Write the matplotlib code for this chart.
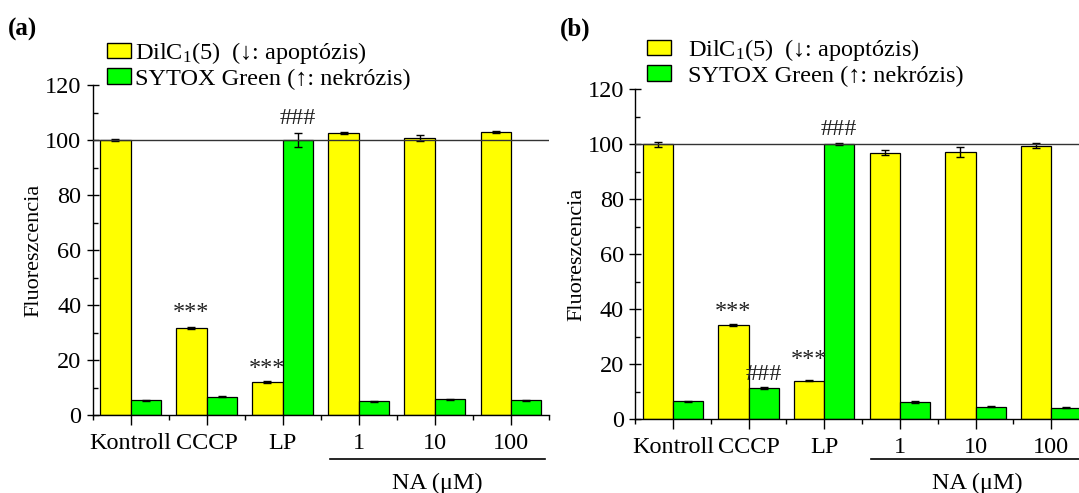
import matplotlib
matplotlib.use("Agg")
import matplotlib.pyplot as plt
from matplotlib.patches import Patch
from matplotlib.ticker import MultipleLocator, FixedLocator
import numpy as np

plt.rcParams['font.family'] = ['Liberation Serif', 'DejaVu Serif']
plt.rcParams['mathtext.fontset'] = 'custom'
plt.rcParams['mathtext.rm'] = 'Liberation Serif'
plt.rcParams['mathtext.it'] = 'Liberation Serif:italic'

categories = ['Kontroll', 'CCCP', 'LP', '1', '10', '100']

a_dil = [100.0, 31.5, 12.1, 102.5, 100.6, 102.9]
a_dil_err = [0.3, 0.4, 0.3, 0.4, 1.1, 0.3]
a_sytox = [5.3, 6.6, 100.0, 5.0, 5.7, 5.3]
a_sytox_err = [0.2, 0.2, 2.7, 0.1, 0.3, 0.3]

b_dil = [100.0, 34.3, 14.1, 97.0, 97.3, 99.5]
b_dil_err = [1.0, 0.4, 0.2, 1.0, 1.8, 0.8]
b_sytox = [6.5, 11.3, 100.0, 6.3, 4.6, 4.2]
b_sytox_err = [0.2, 0.4, 0.3, 0.2, 0.2, 0.2]

# significance marks: (series, category index, text, baseline value)
a_marks = [('dil', 1, '***', 35.3), ('dil', 2, '***', 15.0), ('sytox', 2, '###', 106.0)]
b_marks = [('dil', 1, '***', 37.2), ('dil', 2, '***', 19.7), ('sytox', 1, '###', 14.3),
           ('sytox', 2, '###', 103.4)]

label_dil = r'DilC$_1$(5)  (↓: apoptózis)'
label_syt = 'SYTOX Green (↑: nekrózis)'
group_label = 'NA (μM)'

YELLOW = '#FFFF00'
GREEN = '#00FF00'
FS = 17.5

W, H = 1079, 493
fig = plt.figure(figsize=(W / 100, H / 100), dpi=100)


def px_axes(left, right, top, bottom):
    return fig.add_axes([left / W, 1 - bottom / H, (right - left) / W, (bottom - top) / H])


ax_a = px_axes(92.5, 549, 85, 415)
ax_b = px_axes(635, 1089, 89.3, 419.3)


def draw(ax, dil, dil_err, syt, syt_err, marks, panel, leg_x, leg_y, textpad, grp_y):
    x = np.arange(len(categories))
    w = 0.4
    ekw = dict(ecolor='black', elinewidth=1.0, capsize=3, capthick=1.0)
    ax.bar(x - w / 2, dil, w, color=YELLOW, edgecolor='black', linewidth=0.9,
           yerr=dil_err, error_kw=ekw, zorder=2)
    ax.bar(x + w / 2, syt, w, color=GREEN, edgecolor='black', linewidth=0.9,
           yerr=syt_err, error_kw=ekw, zorder=2)
    ax.axhline(100, color='#333333', linewidth=1.0, zorder=3)
    ax.set_xlim(-0.5, 5.5)
    ax.set_ylim(0, 120)
    for s in ['top', 'right']:
        ax.spines[s].set_visible(False)
    for s in ['left', 'bottom']:
        ax.spines[s].set_linewidth(1.0)
    ax.set_xticks(x)
    ax.set_xticklabels(categories, fontsize=FS)
    ax.xaxis.set_minor_locator(FixedLocator(np.arange(-0.5, 6.0, 1.0)))
    ax.yaxis.set_major_locator(MultipleLocator(20))
    ax.yaxis.set_minor_locator(MultipleLocator(10))
    ax.tick_params(axis='x', which='major', direction='out', length=7, width=1, pad=6)
    ax.tick_params(axis='x', which='minor', direction='out', length=3.5, width=1)
    ax.tick_params(axis='y', which='major', direction='inout', length=8, width=1, pad=4,
                   labelsize=FS)
    ax.tick_params(axis='y', which='minor', direction='in', length=3.5, width=1)
    ax.set_ylabel('Fluoreszcencia', fontsize=16)
    ax.yaxis.set_label_coords(-0.107, 0.5)

    for series, i, txt, yv in marks:
        xx = i - w / 2 if series == 'dil' else i + w / 2
        ax.text(xx, yv, txt, ha='center', va='baseline', fontsize=FS, color='#222222')

    # group line and label
    ax.plot([2.62, 5.45], [grp_y[0], grp_y[0]], color='black', linewidth=1.2, clip_on=False)
    ax.text(4.03, grp_y[1], group_label, ha='center', va='center', fontsize=FS, clip_on=False)

    handles = [Patch(facecolor=YELLOW, edgecolor='black', linewidth=1.0),
               Patch(facecolor=GREEN, edgecolor='black', linewidth=1.0)]
    ax.legend(handles, [label_dil, label_syt], loc='upper left',
              bbox_to_anchor=(leg_x / W, 1 - leg_y / H), bbox_transform=fig.transFigure,
              frameon=False, fontsize=FS, handlelength=1.0, handleheight=0.6,
              handletextpad=textpad, labelspacing=0.1, borderpad=0, borderaxespad=0)

    fig.text(panel[1] / W, 1 - panel[2] / H, panel[0], fontsize=18, fontweight='bold',
             ha='left', va='baseline')


draw(ax_a, a_dil, a_dil_err, a_sytox, a_sytox_err, a_marks, ('(a)', 7.5, 36), 107, 40, 0.17,
     (-16.0, -25.0))
draw(ax_b, b_dil, b_dil_err, b_sytox, b_sytox_err, b_marks, ('(b)', 560, 36), 647, 37, 0.68,
     (-14.3, -23.3))

fig.savefig('out.png', dpi=100)
